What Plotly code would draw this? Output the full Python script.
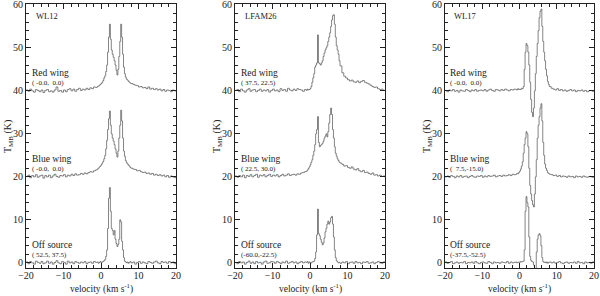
"""
CO spectra towards three outflow sources (WL12, LFAM26, WL17)
Red wing / blue wing / off-source spectra stacked with offsets of 40, 20 and 0 K.
"""

import plotly.graph_objects as go
from plotly.subplots import make_subplots


# ============================================================================
# DATA
# ============================================================================

# velocity channels (km/s): 0.5 steps in the wings, 0.25 steps across the line core
VELOCITY = [
    -20.0, -19.5, -19.0, -18.5, -18.0, -17.5, -17.0, -16.5, -16.0, -15.5,
    -15.0, -14.5, -14.0, -13.5, -13.0, -12.5, -12.0, -11.5, -11.0, -10.5,
    -10.0, -9.5, -9.0, -8.5, -8.0, -7.5, -7.0, -6.5, -6.0, -5.5,
    -5.0, -4.5, -4.0, -3.5, -3.0, -2.5, -2.0, -1.5,
    -1.0, -0.75, -0.5, -0.25,
    0.0, 0.25, 0.5, 0.75,
    1.0, 1.25, 1.5, 1.75,
    2.0, 2.25, 2.5, 2.75,
    3.0, 3.25, 3.5, 3.75,
    4.0, 4.25, 4.5, 4.75,
    5.0, 5.25, 5.5, 5.75,
    6.0, 6.25, 6.5, 6.75,
    7.0, 7.25, 7.5, 7.75,
    8.0,
    8.5, 9.0, 9.5, 10.0, 10.5, 11.0, 11.5, 12.0, 12.5, 13.0,
    13.5, 14.0, 14.5, 15.0, 15.5, 16.0, 16.5, 17.0, 17.5, 18.0,
    18.5, 19.0, 19.5, 20.0,
]

# --- WL12 ---
WL12_RED = [
    0.2, -0.1, 0.4, 0.0, -0.3, 0.3, 0.1, -0.2, 0.2, -0.4,
    0.1, 0.3, -0.2, 0.0, -0.3, 0.2, 0.9, -0.1, 0.1, -0.3,
    0.2, -0.2, 0.3, 0.5, 0.0, 0.4, -0.1, 0.3, 0.6, 0.1,
    0.4, 0.2, 0.6, 0.3, 0.7, 0.5, 0.9, 0.8,
    1.0, 1.1, 1.3, 1.5,
    1.7, 2.0, 2.4, 3.0,
    3.5, 4.5, 6.0, 9.0,
    12.5, 15.5, 12.0, 9.5,
    8.5, 7.8, 7.0, 6.0,
    4.8, 3.7, 5.0, 8.0,
    11.5, 15.5, 12.5, 8.5,
    5.5, 4.0, 3.2, 2.7,
    2.5, 2.2, 2.0, 1.8,
    1.7,
    1.5, 1.3, 1.2, 0.9, 1.0, 0.7, 0.8, 0.5, 0.9, 0.4,
    0.6, 0.3, 0.5, 0.2, 0.4, 0.0, 0.3, -0.1, 0.2, 0.1,
    -0.2, 0.2, 0.0, -0.1,
]
WL12_BLUE = [
    0.1, 0.4, -0.2, 0.3, 0.0, 0.5, -0.1, 0.2, 0.4, -0.3,
    0.3, 0.0, 0.4, -0.2, 0.2, 0.6, 0.1, -0.1, 0.3, 0.2,
    0.5, 0.0, 0.4, 0.2, 0.6, 0.3, 0.7, 0.4, 0.5, 0.8,
    0.6, 0.9, 0.7, 1.0, 1.2, 1.1, 1.4, 1.6,
    1.8, 2.0, 2.3, 2.5,
    2.8, 3.2, 3.6, 4.2,
    5.0, 6.5, 8.5, 11.0,
    13.5, 15.3, 12.0, 10.0,
    9.0, 8.3, 7.5, 6.5,
    5.5, 4.6, 6.0, 9.0,
    12.0, 15.5, 13.0, 9.0,
    6.0, 4.8, 3.8, 3.3,
    3.0, 2.7, 2.5, 2.2,
    2.0,
    1.8, 1.7, 1.4, 1.5, 1.2, 1.0, 1.1, 0.8, 0.9, 0.6,
    0.8, 0.4, 0.6, 0.3, 0.5, 0.2, 0.4, 0.0, 0.3, -0.1,
    0.2, 0.0, -0.2, 0.1,
]
WL12_OFF = [
    0.2, -0.2, 0.3, 0.0, -0.3, 0.4, 0.1, -0.1, 0.3, -0.2,
    0.0, 0.4, -0.1, 0.2, -0.3, 0.1, 0.5, 0.0, -0.2, 0.3,
    0.1, -0.3, 0.4, 0.0, 0.2, -0.2, 0.3, 0.1, -0.1, 0.2,
    0.0, 0.3, -0.2, 0.1, 0.2, -0.1, 0.3, 0.1,
    0.2, -0.1, 0.1, 0.3,
    0.0, 0.2, 0.3, 0.5,
    0.8, 1.5, 3.0, 8.0,
    15.0, 17.5, 12.0, 8.0,
    7.5, 6.5, 7.5, 5.5,
    4.5, 3.8, 4.3, 5.5,
    10.0, 9.5, 5.0, 3.0,
    1.2, 0.4, 0.2, 0.0,
    0.2, -0.1, 0.1, 0.3,
    0.0,
    0.2, -0.3, 0.1, 0.3, -0.1, 0.2, 0.0, -0.2, 0.3, 0.1,
    -0.1, 0.2, 0.4, 0.0, -0.2, 0.3, 0.1, 0.2, -0.1, 0.3,
    0.0, 0.2, -0.2, 0.1,
]

# --- LFAM26 ---
LFAM26_RED = [
    0.1, 0.3, -0.2, 0.4, 0.0, -0.3, 0.2, 0.5, -0.1, 0.2,
    0.3, -0.2, 0.1, 0.4, -0.1, 0.2, 0.0, 0.3, -0.3, 0.1,
    0.4, 0.0, 0.2, -0.2, 0.5, 0.1, 0.3, -0.1, 0.6, 0.2,
    0.0, 0.4, 0.1, 0.5, 0.3, 0.2, -0.1, 0.3,
    0.1, 0.4, 0.2, 0.3,
    0.5, 1.0, 2.0, 3.0,
    4.0, 5.5, 6.0, 6.5,
    13.0, 6.5, 6.3, 6.0,
    6.5, 7.0, 8.0, 8.8,
    9.5, 10.0, 10.5, 11.5,
    12.5, 13.5, 15.0, 16.5,
    17.5, 17.7, 15.5, 12.5,
    10.5, 9.5, 8.5, 7.0,
    5.8,
    4.2, 3.4, 3.0, 2.6, 2.3, 2.5, 2.1, 2.0, 2.3, 1.9,
    2.2, 2.4, 2.0, 1.8, 1.6, 1.3, 1.0, 0.8, 0.9, 0.5,
    0.3, 0.4, 0.1, 0.0,
]
LFAM26_BLUE = [
    0.2, -0.1, 0.3, 0.0, 0.4, -0.2, 0.3, 0.1, 0.5, 0.0,
    0.3, 0.6, -0.1, 0.4, 0.2, 0.5, 0.0, 0.3, 0.6, 0.1,
    0.4, 0.2, 0.5, 0.0, 0.3, 0.6, 0.2, 0.4, 0.7, 0.3,
    0.5, 0.6, 0.4, 0.7, 0.6, 0.9, 1.0, 1.2,
    1.3, 1.6, 1.9, 2.3,
    2.8, 3.4, 4.0, 5.0,
    6.0, 7.5, 10.0, 11.0,
    14.0, 8.0, 7.0, 7.3,
    7.5, 7.8, 8.3, 9.0,
    9.5, 10.0, 9.3, 10.5,
    12.5, 14.5, 16.0, 14.5,
    11.0, 9.0, 7.0, 5.5,
    4.8, 4.2, 3.8, 3.4,
    3.2,
    2.9, 2.5, 2.6, 2.2, 2.0, 2.3, 1.8, 1.6, 1.9, 1.4,
    1.2, 1.5, 1.0, 1.1, 0.8, 0.6, 0.9, 0.4, 0.5, 0.2,
    0.4, 0.1, 0.2, -0.1,
]
LFAM26_OFF = [
    0.1, -0.2, 0.3, 0.0, 0.2, -0.3, 0.1, 0.4, -0.1, 0.2,
    -0.2, 0.3, 0.0, 0.1, -0.3, 0.2, 0.4, -0.1, 0.0, 0.3,
    0.2, -0.1, 0.3, 0.1, -0.2, 0.2, 0.0, 0.4, -0.1, 0.1,
    0.3, 0.0, 0.2, -0.2, 0.1, 0.3, 0.0, 0.2,
    0.1, 0.3, -0.1, 0.2,
    0.1, 0.0, 0.2, 0.3,
    0.4, 1.0, 2.5, 6.5,
    12.5, 6.8, 6.3, 5.5,
    4.8, 4.2, 4.6, 5.8,
    7.2, 8.0, 9.0, 9.7,
    9.0, 9.5, 10.5, 10.8,
    9.0, 6.0, 3.0, 1.2,
    0.5, 0.2, 0.0, 0.1,
    -0.1,
    0.2, 0.0, 0.3, -0.2, 0.1, 0.2, -0.1, 0.3, 0.0, 0.1,
    -0.2, 0.2, 0.1, 0.3, -0.1, 0.0, 0.2, -0.2, 0.1, 0.3,
    0.0, -0.1, 0.2, 0.1,
]

# --- WL17 ---
WL17_RED = [
    0.1, -0.2, 0.2, 0.0, 0.3, -0.1, 0.1, -0.3, 0.2, 0.0,
    -0.1, 0.3, 0.1, -0.2, 0.2, 0.0, 0.3, -0.1, 0.1, 0.2,
    0.0, 0.3, -0.1, 0.2, 0.4, 0.1, -0.1, 0.3, 0.2, 0.0,
    0.3, 0.1, 0.4, 0.2, 0.0, 0.3, 0.2, 0.4,
    0.3, 0.2, 0.5, 0.3,
    0.4, 0.3, 0.6, 0.5,
    1.0, 5.0, 9.0, 11.0,
    10.5, 9.0, 6.0, 2.0,
    -2.0, -5.0, -6.0, -4.0,
    0.0, 4.0, 8.0, 11.0,
    14.0, 17.0, 18.5, 19.0,
    15.0, 11.5, 9.0, 7.0,
    5.0, 3.5, 2.2, 1.5,
    1.0,
    0.6, 0.4, 0.2, 0.5, 0.1, 0.3, 0.0, 0.2, -0.1, 0.1,
    0.3, 0.0, 0.2, -0.2, 0.1, 0.0, 0.2, -0.1, 0.1, -0.2,
    0.0, 0.1, -0.1, 0.0,
]
WL17_BLUE = [
    0.0, 0.2, -0.1, 0.3, 0.1, -0.2, 0.2, 0.0, 0.3, -0.1,
    0.1, 0.2, -0.2, 0.1, 0.3, 0.0, -0.1, 0.2, 0.1, 0.3,
    -0.1, 0.2, 0.0, 0.3, 0.1, 0.2, 0.4, 0.0, 0.2, 0.3,
    0.1, 0.4, 0.2, 0.3, 0.5, 0.3, 0.6, 0.5,
    0.6, 0.8, 0.7, 1.0,
    1.3, 1.8, 2.5, 3.5,
    5.5, 7.5, 9.0, 10.5,
    10.0, 7.0, 2.0, -2.0,
    -4.0, -5.5, -6.5, -7.0,
    -4.0, 0.0, 4.0, 9.0,
    12.0, 14.0, 16.0, 17.0,
    13.0, 8.0, 5.0, 3.0,
    2.0, 1.5, 1.0, 0.8,
    0.6,
    0.5, 0.3, 0.4, 0.1, 0.3, 0.0, 0.2, 0.1, -0.1, 0.2,
    0.0, 0.1, -0.2, 0.2, 0.0, 0.1, -0.1, 0.2, 0.0, -0.1,
    0.1, 0.0, -0.1, 0.1,
]
WL17_OFF = [
    0.2, -0.1, 0.1, 0.3, -0.2, 0.0, 0.2, -0.1, 0.1, 0.0,
    0.3, -0.2, 0.1, 0.0, 0.2, -0.1, 0.3, 0.0, -0.2, 0.1,
    0.2, 0.0, -0.1, 0.3, 0.1, -0.2, 0.2, 0.0, 0.1, -0.1,
    0.2, 0.1, 0.0, 0.3, -0.1, 0.2, 0.0, 0.1,
    0.2, 0.0, 0.1, 0.2,
    0.1, 0.3, 0.2, 0.3,
    0.4, 3.0, 12.0, 15.4,
    14.0, 13.0, 6.0, 1.5,
    0.6, 0.3, 0.2, -0.5,
    -1.5, -2.0, 2.5, 5.5,
    6.5, 6.8, 6.3, 4.0,
    1.2, 0.3, 0.1, 0.2,
    0.0, 0.2, -0.1, 0.1,
    0.2,
    0.0, 0.2, -0.1, 0.1, 0.3, 0.0, -0.2, 0.1, 0.2, -0.1,
    0.1, 0.0, 0.2, -0.1, 0.3, 0.0, 0.1, -0.2, 0.2, 0.0,
    0.1, -0.1, 0.2, 0.0,
]

SOURCES = ['WL12', 'LFAM26', 'WL17']
SPECTRA = [
    [WL12_RED, WL12_BLUE, WL12_OFF],
    [LFAM26_RED, LFAM26_BLUE, LFAM26_OFF],
    [WL17_RED, WL17_BLUE, WL17_OFF],
]
SPECTRUM_NAMES = ['Red wing', 'Blue wing', 'Off source']
SPECTRUM_OFFSETS = [40, 20, 0]   # K, vertical shift of each spectrum

# map offsets (arcsec) quoted under each label
POSITIONS = [
    ['( -0.0,  0.0)', '( -0.0,  0.0)', '( 52.5, 37.5)'],
    ['( 37.5, 22.5)', '( 22.5, 30.0)', '(-60.0,-22.5)'],
    ['( -0.0,  0.0)', '(  7.5,-15.0)', '(-37.5,-52.5)'],
]

# velocity markers: dotted integration limits, dashed systemic velocity
DOTTED_VELOCITIES = [
    [-1.8, 1.3, 6.7, 11.1],
    [-1.0, 1.3, 6.7, 17.0],
    [-0.5, 1.2, 6.3, 10.0],
]
SYSTEMIC_VELOCITY = [4.3, 4.3, 4.4]

X_TICKS = [-20, -10, 0, 10, 20]
Y_TICKS = [0, 10, 20, 30, 40, 50, 60]


# ============================================================================
# STYLE
# ============================================================================

FONT = 'Liberation Serif'
INK = '#222222'
SPEC_COLOR = '#505050'
GUIDE_COLOR = '#a0a0a0'

W, H = 600, 296
PANEL_X = [(26, 176), (235, 385), (445, 594)]   # pixel extents of each panel
PANEL_Y = (4, 268)


def px_x(p):
    return p / W


def px_y(p):
    return 1 - p / H


# ============================================================================
# FIGURE
# ============================================================================

fig = make_subplots(rows=1, cols=3)

for i, source in enumerate(SOURCES):
    col = i + 1
    xa = 'x' if i == 0 else f'x{col}'
    ya = 'y' if i == 0 else f'y{col}'

    # guides behind the spectra
    for level in SPECTRUM_OFFSETS:
        fig.add_hline(y=level, line=dict(color=GUIDE_COLOR, width=0.6, dash='dot'),
                      row=1, col=col, layer='below')
    for v in DOTTED_VELOCITIES[i]:
        fig.add_vline(x=v, line=dict(color=GUIDE_COLOR, width=0.7, dash='dot'),
                      row=1, col=col, layer='below')
    fig.add_vline(x=SYSTEMIC_VELOCITY[i], line=dict(color='#808080', width=0.7, dash='dash'),
                  row=1, col=col, layer='below')

    # spectra
    for k, (spec, name, off) in enumerate(zip(SPECTRA[i], SPECTRUM_NAMES, SPECTRUM_OFFSETS)):
        assert len(spec) == len(VELOCITY)
        fig.add_trace(go.Scatter(
            x=VELOCITY,
            y=[t + off for t in spec],
            mode='lines',
            name=f'{source} {name}',
            line=dict(color=SPEC_COLOR, width=0.7, shape='hv'),
            showlegend=False,
        ), row=1, col=col)

        # labels
        fig.add_annotation(
            x=0.03, xref=f'{xa} domain', y=off + 4.1, yref=ya,
            text=name, showarrow=False, xanchor='left', yanchor='middle',
            font=dict(family=FONT, size=9.5, color=INK), borderpad=0,
        )
        fig.add_annotation(
            x=0.03, xref=f'{xa} domain', y=off + 1.9, yref=ya,
            text=POSITIONS[i][k].replace(' ', '\u00a0'),
            showarrow=False, xanchor='left', yanchor='middle',
            font=dict(family=FONT, size=7, color=INK), borderpad=0,
        )

    fig.add_annotation(
        x=0.05, xref=f'{xa} domain', y=57.3, yref=ya,
        text=source, showarrow=False, xanchor='left', yanchor='middle',
        font=dict(family=FONT, size=8.5, color=INK),
    )

    # axis titles
    x0, x1 = PANEL_X[i]
    fig.add_annotation(
        x=px_x((x0 + x1) / 2), xref='paper', y=px_y(288), yref='paper',
        text='velocity (km s<sup>-1</sup>)', showarrow=False,
        xanchor='center', yanchor='middle', borderpad=0,
        font=dict(family=FONT, size=9.5, color=INK),
    )
    fig.add_annotation(
        x=px_x(x0 - 18), xref='paper', y=px_y(137), yref='paper',
        text='T<sub>MB</sub> (K)', showarrow=False, textangle=-90,
        xanchor='center', yanchor='middle',
        font=dict(family=FONT, size=10, color=INK),
    )

    fig.update_xaxes(
        domain=[px_x(x0), px_x(x1)],
        range=[-20, 20],
        tickvals=X_TICKS,
        ticks='inside', ticklen=5, tickcolor=INK, tickwidth=0.8,
        minor=dict(ticks='inside', dtick=2, ticklen=3, tickcolor=INK, tickwidth=0.8),
        showline=True, linecolor=INK, linewidth=0.9, mirror='ticks',
        showgrid=False, zeroline=False,
        tickfont=dict(family=FONT, size=10, color=INK),
        ticklabeloverflow='allow', ticklabelstandoff=-2,
        automargin=False,
        row=1, col=col,
    )
    fig.update_yaxes(
        domain=[px_y(PANEL_Y[1]), px_y(PANEL_Y[0])],
        range=[-1.2, 60.2],
        tickvals=Y_TICKS,
        ticks='inside', ticklen=5, tickcolor=INK, tickwidth=0.8,
        minor=dict(ticks='inside', dtick=2, ticklen=3, tickcolor=INK, tickwidth=0.8),
        showline=True, linecolor=INK, linewidth=0.9, mirror='ticks',
        showgrid=False, zeroline=False,
        tickfont=dict(family=FONT, size=10, color=INK),
        ticklabeloverflow='allow',
        automargin=False,
        row=1, col=col,
    )

fig.update_layout(
    width=W, height=H,
    margin=dict(l=0, r=0, t=0, b=0),
    plot_bgcolor='white',
    paper_bgcolor='white',
    font=dict(family=FONT, color=INK),
)

# the page body has a default 8px margin; drop it so the figure fills the window
fig.write_html(
    'out.html',
    config={'displayModeBar': False},
    post_script="document.body.style.margin='0';",
)
